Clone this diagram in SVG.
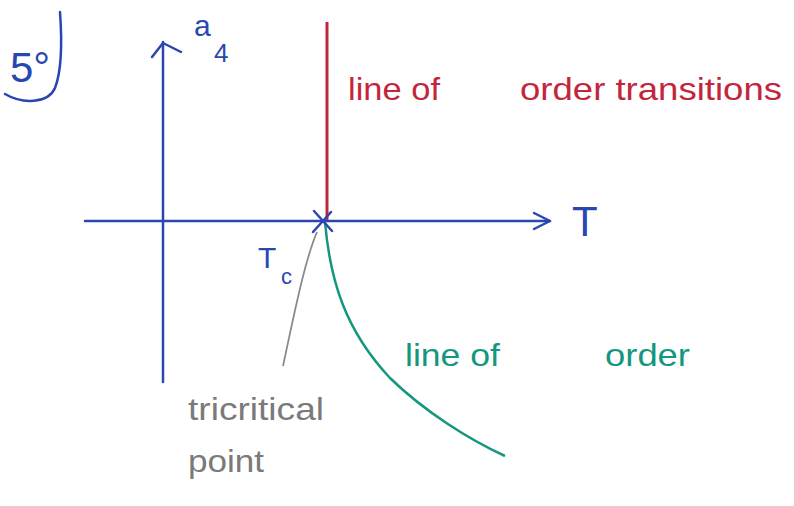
<svg xmlns="http://www.w3.org/2000/svg" width="794" height="506" viewBox="0 0 794 506">
<style>
.blue{stroke:#2a47b0;fill:none;stroke-width:2.5;stroke-linecap:round;stroke-linejoin:round}
.t{font-family:"Liberation Sans","DejaVu Sans",sans-serif}
.bt{fill:#2a47b0}
.rt{fill:#c3263c}
.gt{fill:#13977f}
.yt{fill:#7a7a7a}
</style>
<rect width="794" height="506" fill="#ffffff"/>
<g id="label-5">
<text class="t bt" x="10" y="82" font-size="42">5°</text>
<path class="blue" d="M60 12 C62 40 62 70 55 88 C48 104 22 104 5 94"/>
</g>
<g id="axes">
<path class="blue" d="M163 382 L163 42"/>
<path class="blue" d="M152 57 L163 43 L181 52"/>
<path class="blue" d="M85 221 L550 221"/>
<path class="blue" d="M534 213 L550 221 L534 229"/>
<text class="t bt" x="194" y="36" font-size="30">a</text>
<text class="t bt" x="214" y="62" font-size="26">4</text>
<text class="t bt" x="572" y="236" font-size="42">T</text>
</g>
<g id="first-order-line">
<path d="M327 22 L327 220" stroke="#c3263c" stroke-width="3" fill="none"/>
<text class="t rt" x="348" y="100" font-size="32" textLength="92" lengthAdjust="spacingAndGlyphs">line of</text>
<text class="t rt" x="520" y="100" font-size="32" textLength="262" lengthAdjust="spacingAndGlyphs">order transitions</text>
</g>
<g id="second-order-line">
<path d="M325 222 C330 280 345 330 390 378 C425 412 470 440 505 456" stroke="#13977f" stroke-width="2.5" fill="none"/>
<text class="t gt" x="405" y="366" font-size="32" textLength="95" lengthAdjust="spacingAndGlyphs">line of</text>
<text class="t gt" x="605" y="366" font-size="32" textLength="85" lengthAdjust="spacingAndGlyphs">order</text>
</g>
<g id="tricritical-point">
<path class="blue" d="M314 211 L332 231 M331 212 L313 232"/>
<text class="t bt" x="258" y="268" font-size="30">T</text>
<text class="t bt" x="281" y="284" font-size="22">c</text>
<path d="M317 232 C305 260 295 310 283 366" stroke="#8a8a8a" stroke-width="1.8" fill="none"/>
<text class="t yt" x="188" y="420" font-size="32" textLength="136" lengthAdjust="spacingAndGlyphs">tricritical</text>
<text class="t yt" x="188" y="472" font-size="32" textLength="76" lengthAdjust="spacingAndGlyphs">point</text>
</g>
</svg>
